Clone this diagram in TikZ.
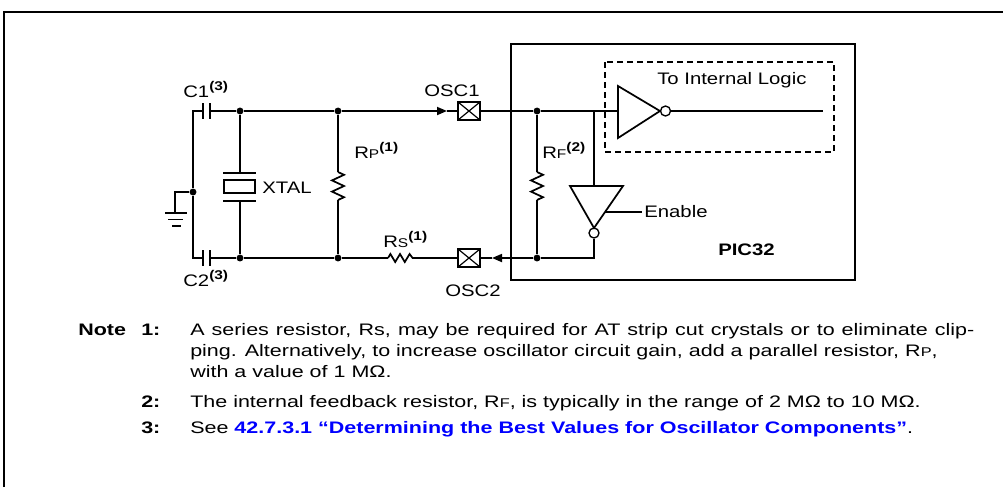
\documentclass[tikz,border=0pt]{standalone}
\usepackage{fontspec}
\setmainfont{Liberation Sans}[FakeStretch=1.22]
\newfontfamily\notefont{Liberation Sans}[FakeStretch=1.29]
\usetikzlibrary{arrows.meta}
\definecolor{linkblue}{RGB}{0,0,255}
\newcommand{\lowcap}[1]{{\fontsize{9.5pt}{10pt}\selectfont #1}}
\newcommand{\supnote}[1]{\raisebox{5pt}{\fontsize{9.5pt}{10pt}\selectfont\bfseries(#1)}}
\begin{document}
\begin{tikzpicture}[x=0.75pt,y=-0.75pt,
  font=\fontsize{12.5pt}{15pt}\selectfont,
  wire/.style={line width=1.3pt},
  frame/.style={line width=1.5pt},
  dot/.style={circle, fill, inner sep=0pt, minimum size=5.2pt},
  pad/.style={draw, line width=1.3pt, minimum width=16.5pt, minimum height=13.5pt, inner sep=0pt,
    path picture={\draw[line width=0.9pt] (path picture bounding box.south west) -- (path picture bounding box.north east)
      (path picture bounding box.north west) -- (path picture bounding box.south east);}},
  bubble/.style={circle, draw, line width=1pt, inner sep=0pt, minimum size=7.5pt},
  lbl/.style={inner sep=0pt, anchor=base west},
  note/.style={inner sep=0pt, anchor=base west, font=\fontsize{12.5pt}{15pt}\notefont},
  arr/.style={-{Triangle[length=7.5pt,width=6pt]}},
  dashbox/.style={line width=1.3pt, dash pattern=on 4.5pt off 3pt},
  vres/.pic={\draw[wire] (0,0) -- (6,2.8) -- (-6,8.4) -- (6,14) -- (-6,19.6) -- (6,25.2) -- (0,28);},
  hres/.pic={\draw[wire] (0,0) -- (2.4,-4) -- (7.2,4) -- (12,-4) -- (16.8,4) -- (21.6,-4) -- (24.6,0) -- (29,0);}
]
\useasboundingbox (0,0) rectangle (1003,487);
% outer frame (cropped)
\draw[frame] (4,487) -- (4,12) -- (1003,12);
% PIC32 box
\draw[frame] (511,44) rectangle (855,280);
\draw[dashbox] (605,62) rectangle (834,152);
% junction dots
\node[dot] (ja) at (240,111) {};
\node[dot] (jb) at (338,111) {};
\node[dot] (jc) at (537,111) {};
\node[dot] (jd) at (240,258) {};
\node[dot] (je) at (338,258) {};
\node[dot] (jf) at (537,258) {};
\node[dot] (jg) at (193,192) {};
% pads
\node[pad] (osc1) at (469,111) {};
\node[pad] (osc2) at (469,258) {};
% coordinates
\coordinate (tl) at (193,111);
\coordinate (bl) at (193,258);
\coordinate (c1l) at (203,111);
\coordinate (c1r) at (210,111);
\coordinate (c2l) at (203,258);
\coordinate (c2r) at (210,258);
\coordinate (a1) at (447,111);
\coordinate (a2) at (492,258);
\coordinate (binA) at (618,111);
\coordinate (out) at (823,111);
% left network
\draw[wire] (jg) -- (tl) -- (c1l);
\draw[wire] (203,103) -- (203,119) (210,103) -- (210,119);
\draw[wire] (jg) -- (bl) -- (c2l);
\draw[wire] (203,250) -- (203,266) (210,250) -- (210,266);
\draw[wire] (c1r) -- (ja) -- (jb);
\draw[wire,arr] (jb) -- (a1);
\draw[wire] (a1) -- (osc1);
\draw[wire] (c2r) -- (jd) -- (je) -- (388,258);
\pic at (388,258) {hres};
\draw[wire] (417,258) -- (osc2);
% ground
\draw[wire] (jg) -- (175,192) -- (175,213);
\draw[wire] (165,213) -- (187,213) (168,219.5) -- (183,219.5) (172,226) -- (181,226);
% crystal
\draw[wire] (ja) -- (240,173);
\draw[wire] (223,173) -- (256,173);
\draw[wire] (224,180) rectangle (255,193);
\draw[wire] (223,201) -- (256,201);
\draw[wire] (240,201) -- (jd);
% RP
\draw[wire] (jb) -- (338,172);
\pic at (338,172) {vres};
\draw[wire] (338,200) -- (je);
% inside chip
\draw[wire] (osc1) -- (jc) -- (binA);
\draw[wire] (618,86) -- (660,111) -- (618,138) -- cycle;
\node[bubble] (bub1) at (665.5,111) {};
\draw[wire] (bub1) -- (out);
\draw[wire] (jc) -- (537,172);
\pic at (537,172) {vres};
\draw[wire] (537,200) -- (jf);
\draw[wire] (594,111) -- (594,186);
\draw[wire] (570,186) -- (623,186) -- (594,228) -- cycle;
\node[bubble] (bub2) at (594,233) {};
\draw[wire] (bub2) -- (594,258) -- (jf);
\draw[wire,arr] (jf) -- (a2);
\draw[wire] (a2) -- (osc2);
\draw[wire] (605,212) -- (642,212);
% labels
\node[lbl] at (183,97) {C1\supnote{3}};
\node[lbl] at (183,286) {C2\supnote{3}};
\node[lbl, anchor=base] at (452,96) {OSC1};
\node[lbl, anchor=base] at (473,296) {OSC2};
\node[lbl] at (262,193) {XTAL};
\node[lbl] at (354,158) {R\lowcap{P}\supnote{1}};
\node[lbl] at (383,247) {R\lowcap{S}\supnote{1}};
\node[lbl] at (542,158) {R\lowcap{F}\supnote{2}};
\node[lbl] at (657,84) {To Internal Logic};
\node[lbl] at (644,217) {Enable};
\node[lbl] at (718,255) {\textbf{PIC32}};
% notes
\node[note] at (78,335) {\textbf{Note}};
\node[note] at (141,335) {\textbf{1:}};
\node[note] at (190,335) {\makebox[588pt][s]{A series resistor, Rs, may be required for AT strip cut crystals or to eliminate clip-}};
\node[note] at (190,356) {ping. Alternatively, to increase oscillator circuit gain, add a parallel resistor, R\lowcap{P},};
\node[note] at (190,377) {with a value of 1 MΩ.};
\node[note] at (141,407) {\textbf{2:}};
\node[note] at (190,407) {The internal feedback resistor, R\lowcap{F}, is typically in the range of 2 MΩ to 10 MΩ.};
\node[note] at (141,433) {\textbf{3:}};
\node[note] at (190,433) {See \textcolor{linkblue}{\textbf{42.7.3.1 “Determining the Best Values for Oscillator Components”}}.};
\end{tikzpicture}
\end{document}
